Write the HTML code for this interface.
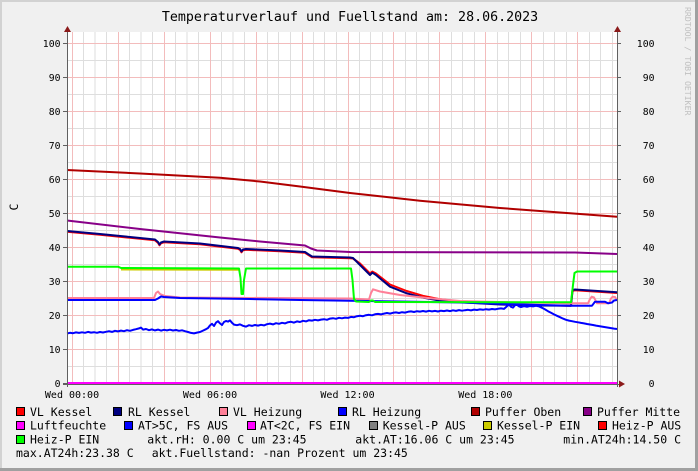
<!DOCTYPE html>
<html><head><meta charset="utf-8"><style>
html,body{margin:0;padding:0;background:#f0f0f0;}
svg{display:block;}
text{font-family:"DejaVu Sans Mono","Liberation Mono",monospace;}
</style></head><body>
<svg width="698" height="471" viewBox="0 0 698 471" xmlns="http://www.w3.org/2000/svg">
<rect x="0" y="0" width="698" height="471" fill="#f0f0f0"/>
<rect x="0" y="0" width="698" height="2" fill="#d2d2d2"/>
<rect x="0" y="0" width="2" height="471" fill="#d2d2d2"/>
<rect x="0" y="468" width="698" height="3" fill="#a0a0a0"/>
<rect x="695" y="0" width="3" height="471" fill="#a0a0a0"/>

<text x="350" y="21" font-size="13.3" text-anchor="middle" fill="#000">Temperaturverlauf und Fuellstand am: 28.06.2023</text>
<text transform="translate(685,7) rotate(90)" font-size="8.2" fill="#c0c0c0">RRDTOOL / TOBI OETIKER</text>
<text transform="translate(18,207) rotate(-90)" font-size="11.5" text-anchor="middle" fill="#000">C</text>

<rect x="67" y="32" width="550" height="351" fill="#ffffff"/>

<g shape-rendering="crispEdges" stroke-width="1">
<g stroke="#dedede">
<path d="M83.5 32V383M95 32V383M106.5 32V383M129.5 32V383M141 32V383M152.5 32V383M175.5 32V383M187 32V383M198.5 32V383M221.5 32V383M233 32V383M244.5 32V383M267.5 32V383M278.5 32V383M290.5 32V383M313.5 32V383M324.5 32V383M336.5 32V383M359.5 32V383M370.5 32V383M382.5 32V383M405.5 32V383M416.5 32V383M428.5 32V383M451.5 32V383M462.5 32V383M474.5 32V383M497.5 32V383M508.5 32V383M520.5 32V383M543.5 32V383M554.5 32V383M566.5 32V383M589.5 32V383M600.5 32V383M612.5 32V383"/>
<path d="M67 366.5H617M67 332.5H617M67 298.5H617M67 264.5H617M67 230.5H617M67 196.5H617M67 162.5H617M67 128.5H617M67 94.5H617M67 60.5H617"/>
</g>
<g stroke="#f3bcbc">
<path d="M72.5 32V383M118.5 32V383M164.5 32V383M210.5 32V383M256.5 32V383M302.5 32V383M348.5 32V383M393.5 32V383M439.5 32V383M485.5 32V383M531.5 32V383M577.5 32V383"/>
<path d="M67 349.5H617M67 315.5H617M67 281.5H617M67 247.5H617M67 213.5H617M67 179.5H617M67 145.5H617M67 111.5H617M67 77.5H617M67 43.5H617"/>
</g>
</g>

<g fill="none" stroke-width="2" stroke-linejoin="round" stroke-linecap="butt">
<!-- VL Kessel -->
<polyline stroke="#ff0000" points="67,231.8 100,234.8 130,237.8 155,240.3 158,242.8 159.5,245.3 161,243.3 164,242.3 200,244.3 238,248.8 240,249.8 241.5,252.3 243,250.3 246,249.8 280,251.3 305,252.8 308,254.8 312,257.3 350,258.3 353,258.5 360,263.5 366,269.5 370,273.5 372.3,271.5 376,273.5 390,284.5 406.7,291 423,295.8 440,299.2 460,301.5 500,304 540,305.3 571,305.8 572.5,291 575,290.2 617,293"/>
<!-- RL Kessel -->
<polyline stroke="#000080" points="67,231 100,234 130,237 155,239.5 158,242 159.5,244.5 161,242.5 164,241.5 200,243.5 238,248 240,249 241.5,251.5 243,249.5 246,249 280,250.5 305,252 308,254 312,256.5 350,257.5 353,258 360,265 366,271 370,275 372.3,272.7 376,275 390,286.7 406.7,293.3 423,297.7 440,300.7 460,302.3 500,304.5 540,305.5 571,305.8 572.5,290 575,289.5 617,292.3"/>
<!-- VL Heizung -->
<polyline stroke="#ff8098" points="67,298 154,298 156,293 158,291.5 160,294 165,296 180,297.5 350,298.5 369,299.5 371,293 373,289.3 380,291.5 400,295 430,298.3 460,301 520,302.5 572,303.3 588,303.3 590,299 591.7,296.7 594,297.5 597,303.3 609,303.3 611,298.5 612.7,296.7 615,297 617,300"/>
<!-- RL Heizung -->
<polyline stroke="#0000ff" points="67,300 155,300 158,298.5 161,296.5 164,297 180,298 250,299 300,300 350,300.8 400,301.5 460,302.5 500,303.8 540,305 571,305.7 592,305.7 595,301.7 605,301.7 608,303.3 612,302.5 614,300.5 617,300"/>
<!-- Puffer Oben -->
<polyline stroke="#b00000" points="67,170 140,173.5 220,177.8 260,181.5 300,186.5 350,193 420,200.7 500,208 560,212.5 617,216.7"/>
<!-- Puffer Mitte -->
<polyline stroke="#880088" points="67,220.5 140,229 220,237.5 260,241.5 305,245.5 311,248.5 317,250.5 350,252 575,252.5 617,254"/>
<!-- Luftfeuchte -->
<polyline stroke="#ff00ff" points="67,383 617,383"/>
<!-- AT>5C -->
<polyline stroke="#0000ff" points="67,333.5 70,332.8 73,333.2 76,332.4 79,332.9 82,332.3 85,332.8 88,331.9 91,332.6 94,332.2 97,332.8 100,332 103,332.5 106,331.8 109,331.2 112,331.9 115,330.8 118,331.4 121,330.6 124,331.2 127,330.2 130,330.8 133,329.9 136,329.2 139,328.4 141,327.6 143,329.6 146,329 149,330.2 152,329.4 155,330.4 158,329.6 161,330.6 164,329.8 167,330.4 170,329.7 173,330.5 176,330 179,330.8 182,330.3 185,331.2 188,332 191,332.9 194,333.4 197,332.6 200,332 203,330.6 206,329.2 208,328 210,325.4 212,323.8 214,326 216,322.6 218,321.2 220,323.4 222,325 224,322 226,321 228,321.6 230,320.4 232,322.8 234,324.6 237,325.2 240,324.4 243,325.8 246,326.6 249,325.2 252,325.9 255,325 258,325.6 261,324.8 264,325.4 267,324.2 270,323.6 273,324.4 276,323.2 279,323.8 282,322.8 285,323.4 288,322.2 291,321.8 294,322.6 297,321.4 300,322 303,320.8 306,321.4 309,320.2 312,320.6 315,319.8 318,320.4 321,319.6 324,319.2 327,319.8 330,318.6 333,318.2 336,318.8 339,317.8 342,318.3 345,317.6 348,317.9 351,316.9 354,317.2 357,316.2 360,315.8 363,316.2 366,315.2 369,314.8 372,315.3 375,314.3 378,313.9 381,314.4 384,313.6 387,313 390,313.6 393,312.8 396,312.4 399,313 402,312.2 405,312.6 408,311.8 411,311.4 414,312 417,311.2 420,311.6 423,311 426,311.6 429,310.8 432,311.4 435,310.9 438,311.5 441,310.7 444,311.1 447,310.5 450,311.1 453,310.3 456,310.9 459,310.1 462,310.7 465,310.2 468,309.8 471,310.4 474,309.6 477,310 480,309.4 483,309.8 486,309.2 489,309.6 492,309 495,309.4 498,308.8 501,308.4 504,308.9 507,306.2 509,304.6 511,306.8 513,307.6 515,305.2 517,304.8 519,306.4 521,307 524,306.2 527,306.8 530,306 533,306.4 536,305.8 539,306.4 542,307.8 545,309.4 548,311.2 551,312.8 554,314.4 557,315.8 560,317.2 563,318.6 566,319.8 569,320.6 572,321.2 575,321.8 578,322.3 581,322.9 584,323.4 587,324 590,324.5 593,325 596,325.6 599,326.1 602,326.6 605,327.1 608,327.6 611,328.1 614,328.6 617,329"/>
<!-- Kessel-P EIN -->
<polyline stroke="#cccc00" points="121,269.5 239,269.8"/>
<!-- Heiz-P EIN -->
<polyline stroke="#00ff00" points="67,266.7 118,266.7 121,268 239,268.5 240.5,278 241.5,294 243,294 244,280 246,268.5 351,268.5 352.5,280 354,299 356,301.5 369,302 371,300.5 373,300.5 375,302 571,302.3 573,285 574.5,273 577,271.5 617,271.5"/>
</g>

<g shape-rendering="crispEdges" stroke="#606060" stroke-width="1">
<path d="M67.5 30V387"/>
<path d="M617.5 30V387"/>
<path d="M63 384.5H620"/>
<path d="M63 43.5H67M63 77.5H67M63 111.5H67M63 145.5H67M63 179.5H67M63 213.5H67M63 247.5H67M63 281.5H67M63 315.5H67M63 349.5H67M63 383.5H67"/>
<path d="M618 43.5H621M618 77.5H621M618 111.5H621M618 145.5H621M618 179.5H621M618 213.5H621M618 247.5H621M618 281.5H621M618 315.5H621M618 349.5H621"/>
</g>
<polygon points="64,32 71,32 67.5,26" fill="#8b1a1a"/>
<polygon points="614,32 621,32 617.5,26" fill="#8b1a1a"/>
<polygon points="619,380.5 619,387.5 625,384" fill="#8b1a1a"/>

<g font-size="9.8" fill="#000" text-anchor="end">
<text x="60.5" y="47">100</text><text x="60.5" y="81">90</text><text x="60.5" y="115">80</text><text x="60.5" y="149">70</text><text x="60.5" y="183">60</text><text x="60.5" y="217">50</text><text x="60.5" y="251">40</text><text x="60.5" y="285">30</text><text x="60.5" y="319">20</text><text x="60.5" y="353">10</text><text x="60.5" y="387">0</text>
<text x="654.5" y="47">100</text><text x="654.5" y="81">90</text><text x="654.5" y="115">80</text><text x="654.5" y="149">70</text><text x="654.5" y="183">60</text><text x="654.5" y="217">50</text><text x="654.5" y="251">40</text><text x="654.5" y="285">30</text><text x="654.5" y="319">20</text><text x="654.5" y="353">10</text><text x="654.5" y="387">0</text>
</g>
<g font-size="10" fill="#000" text-anchor="middle">
<text x="72" y="398">Wed 00:00</text>
<text x="210" y="398">Wed 06:00</text>
<text x="347.5" y="398">Wed 12:00</text>
<text x="485.3" y="398">Wed 18:00</text>
</g>

<g stroke="#000" stroke-width="1" shape-rendering="crispEdges">
<rect x="16.5" y="407.5" width="8" height="8" fill="#ff0000"/>
<rect x="113.5" y="407.5" width="8" height="8" fill="#000080"/>
<rect x="219.5" y="407.5" width="8" height="8" fill="#ff8098"/>
<rect x="338.5" y="407.5" width="8" height="8" fill="#0000ff"/>
<rect x="471.5" y="407.5" width="8" height="8" fill="#b00000"/>
<rect x="583.5" y="407.5" width="8" height="8" fill="#880088"/>
<rect x="16.5" y="421.5" width="8" height="8" fill="#ff00ff"/>
<rect x="124.5" y="421.5" width="8" height="8" fill="#0000ff"/>
<rect x="247.5" y="421.5" width="8" height="8" fill="#ff00ff"/>
<rect x="369.5" y="421.5" width="8" height="8" fill="#808080"/>
<rect x="483.5" y="421.5" width="8" height="8" fill="#cccc00"/>
<rect x="598.5" y="421.5" width="8" height="8" fill="#ff0000"/>
<rect x="16.5" y="435.5" width="8" height="8" fill="#00ff00"/>
</g>
<g font-size="11.5" fill="#000" xml:space="preserve">
<text x="30" y="416">VL Kessel</text>
<text x="128" y="416">RL Kessel</text>
<text x="233" y="416">VL Heizung</text>
<text x="352" y="416">RL Heizung</text>
<text x="485" y="416">Puffer Oben</text>
<text x="597" y="416">Puffer Mitte</text>
<text x="30" y="429.7">Luftfeuchte</text>
<text x="138" y="429.7">AT&gt;5C, FS AUS</text>
<text x="260" y="429.7">AT&lt;2C, FS EIN</text>
<text x="382.7" y="429.7">Kessel-P AUS</text>
<text x="497" y="429.7">Kessel-P EIN</text>
<text x="612" y="429.7">Heiz-P AUS</text>
<text x="30" y="443.4">Heiz-P EIN</text>
<text x="147.3" y="443.4">akt.rH: 0.00 C um 23:45</text>
<text x="355.3" y="443.4">akt.AT:16.06 C um 23:45</text>
<text x="563.3" y="443.4">min.AT24h:14.50 C</text>
<text x="16" y="457.2">max.AT24h:23.38 C</text>
<text x="151.7" y="457.2">akt.Fuellstand: -nan Prozent um 23:45</text>
</g>
</svg>
</body></html>
